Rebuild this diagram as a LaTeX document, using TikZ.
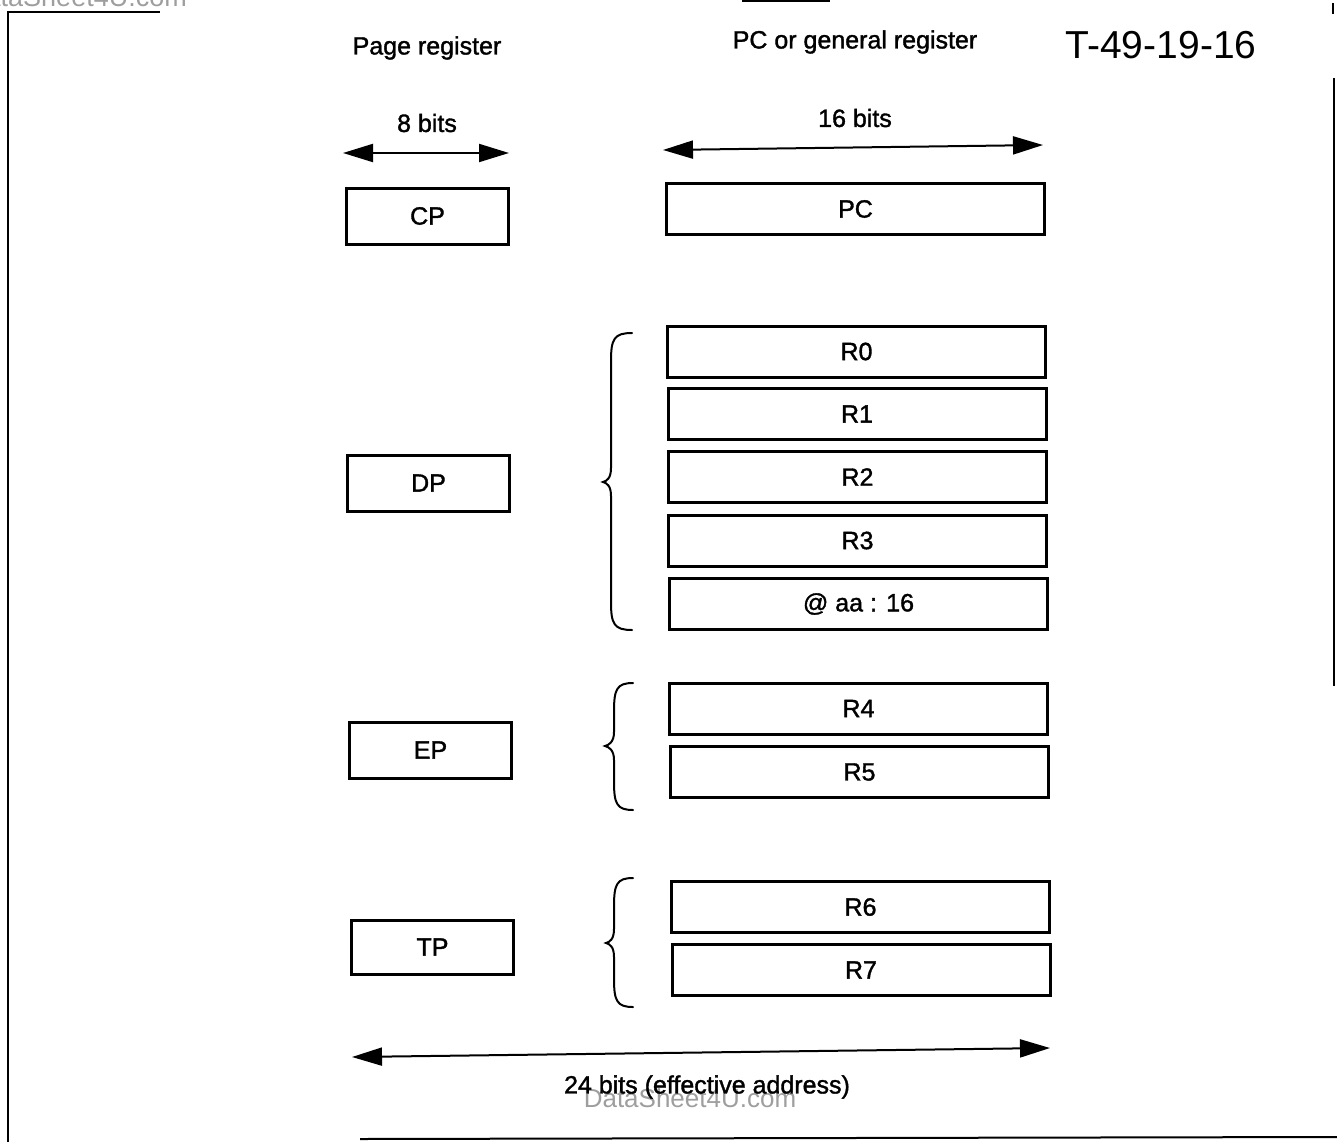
\documentclass[tikz,border=0pt]{standalone}
\usepackage{fontspec}
\setmainfont{Liberation Sans}[FakeBold=1.4]
\newfontfamily\tagface{Liberation Sans}
\usetikzlibrary{arrows.meta}
\newcommand{\regfont}{\fontsize{25}{30}\selectfont}
\newcommand{\tagfont}{\tagface\fontsize{39}{44}\selectfont}
\newcommand{\wmfont}{\tagface\fontsize{27}{30}\selectfont}
\definecolor{wmgray}{gray}{0.62}
\begin{document}
\begin{tikzpicture}[x=1pt,y=-1pt,
  reg/.style={draw, line width=3pt, minimum width=378pt, minimum height=51pt,
              inner sep=0pt, font=\regfont},
  pagereg/.style={reg, minimum width=162pt, minimum height=56pt},
  dimarrow/.style={line width=2pt,
    {Triangle[length=30pt,width=18pt]}-{Triangle[length=30pt,width=18pt]}},
  caption/.style={font=\regfont, inner sep=0pt},
  bracket/.style={line width=2pt, line cap=round},
  frameline/.style={line width=2.4pt},
  wmtext/.style={font=\wmfont, text=wmgray, inner sep=0pt}
]
\useasboundingbox (0,0) rectangle (1337,1142);

% page frame
\draw[frameline] (8,1142) -- (8,12) -- (160,12);
\draw[frameline] (1334,78) -- (1334,686);
\draw[frameline] (1333,3) -- (1333,14);
\draw[frameline] (742,1) -- (830,1);
\draw[line width=2pt] (360,1139) -- (1337,1137);

% watermarks
\begin{scope}
  \clip (0,0) rectangle (1337,1142);
  \node[wmtext, anchor=base west] (wmtop) at (-34,7) {DataSheet4U.com};
\end{scope}
\node[wmtext, font=\tagface\fontsize{26}{30}\selectfont] (wmbot) at (690,1098) {DataSheet4U.com};

% column headings
\node[caption] (hpage) at (427,48) {Page register};
\node[caption] (hgen) at (855,42) {PC or general register};
\node[inner sep=0pt, font=\tagfont] (tag) at (1161,45) {T-49-19-16};

% width arrows
\coordinate (w8l) at (343,153);
\coordinate (w8r) at (509,153);
\draw[dimarrow] (w8l) -- (w8r);
\node[caption] (l8) at (427,123) {8 bits};

\coordinate (w16l) at (663,150);
\coordinate (w16r) at (1043,145);
\draw[dimarrow] (w16l) -- (w16r);
\node[caption] (l16) at (855,118) {16 bits};

\coordinate (w24l) at (352,1057);
\coordinate (w24r) at (1050,1048);
\draw[dimarrow] (w24l) -- (w24r);
\node[caption] (l24) at (707,1087) {24 bits (effective address)};

% page registers
\node[pagereg] (cp) at (427.5,216) {CP};
\node[pagereg] (dp) at (428.5,483) {DP};
\node[pagereg] (ep) at (430.5,750) {EP};
\node[pagereg, minimum height=54pt] (tp) at (432.5,947) {TP};

% PC and general registers
\node[reg] (pc) at (855.5,209) {PC};
\node[reg] (r0) at (856.5,351.5) {R0};
\node[reg] (r1) at (857,414) {R1};
\node[reg] (r2) at (857.5,477) {R2};
\node[reg] (r3) at (857.5,540.5) {R3};
\node[reg] (aa) at (858.5,604) {@ aa : 16};
\node[reg] (r4) at (858.5,708.5) {R4};
\node[reg] (r5) at (859.5,772) {R5};
\node[reg] (r6) at (860.5,907) {R6};
\node[reg] (r7) at (861,970) {R7};

% braces grouping the registers that share a page register
\foreach \e/\x/\p/\t/\m/\b in {632/611/603/333/482/630,
                                 633/614/605/683/746/810,
                                 633/614/606/878/943/1007} {
  \draw[bracket] (\e,\t) .. controls (\x+3,\t) and (\x,\t+6) .. (\x,\t+28)
    -- (\x,\m-14) .. controls (\x,\m-4) and (\p+4,\m-1) .. (\p,\m)
    .. controls (\p+4,\m+1) and (\x,\m+4) .. (\x,\m+14)
    -- (\x,\b-28) .. controls (\x,\b-6) and (\x+3,\b) .. (\e,\b);
}
\end{tikzpicture}
\end{document}
